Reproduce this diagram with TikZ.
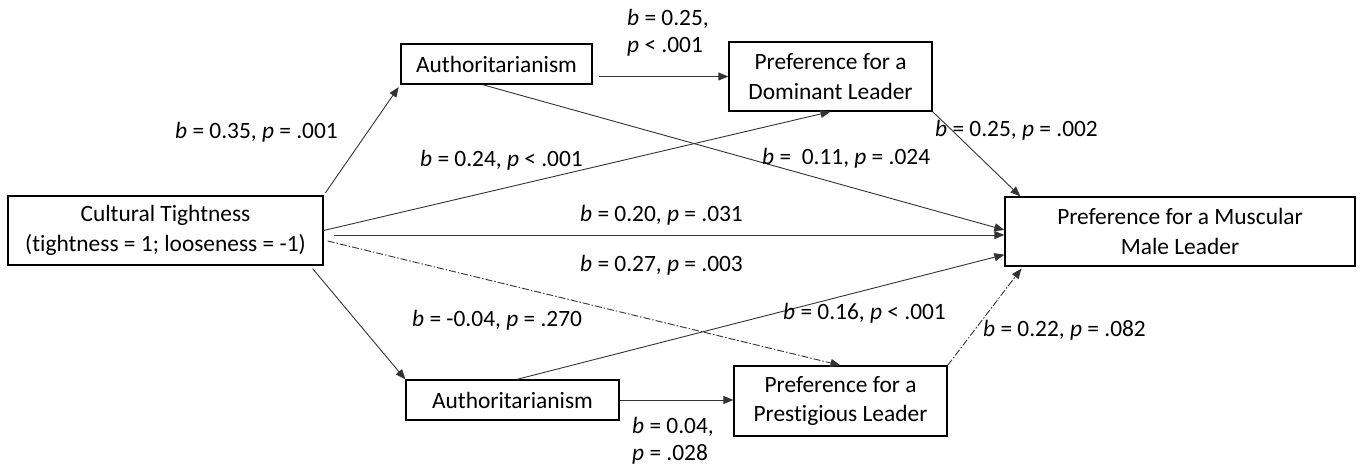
\documentclass[tikz,border=0pt]{standalone}
\usepackage{fontspec}
\setmainfont{Carlito}[Ligatures=NoCommon]
\usetikzlibrary{arrows.meta}
\tikzset{
  box/.style={draw=black,line width=1.3pt,inner sep=0pt,align=center,font=\fontsize{23.4}{29.5}\selectfont},
  conn/.style={draw=black!80,line width=0.9pt,-{Triangle[length=10pt,width=8pt]}},
  dashconn/.style={conn,dash pattern=on 7pt off 2pt on 1.5pt off 2pt},
  lab/.style={anchor=west,inner sep=0pt,align=left,font=\fontsize{23.4}{26.5}\selectfont}
}
\begin{document}
\begin{tikzpicture}[x=1pt,y=-1pt]
\useasboundingbox (0,0) rectangle (1362,470);
\node[box,minimum width=315pt,minimum height=69pt] (tight) at (165.5,230.5) {Cultural Tightness\\(tightness = 1; looseness = -1)};
\node[box,minimum width=191pt,minimum height=40pt] (authA) at (496.5,64) {Authoritarianism};
\node[box,minimum width=203pt,minimum height=69pt] (dom) at (830.5,76.5) {Preference for a\\Dominant Leader};
\node[box,minimum width=350pt,minimum height=69pt] (mus) at (1180,231.5) {Preference for a Muscular\\Male Leader};
\node[box,minimum width=213pt,minimum height=40pt] (authB) at (512.5,400) {Authoritarianism};
\node[box,minimum width=213pt,minimum height=70pt] (pres) at (840.5,401) {Preference for a\\Prestigious Leader};
\draw[conn,shorten <=3pt,shorten >=3pt] (tight.north east) -- (authA.south west);
\draw[conn] (tight.east) -- (dom.south);
\draw[conn] ([shift={(10,4.5)}]tight.east) -- ([shift={(0,3.5)}]mus.west);
\draw[dashconn] ([shift={(4,10.5)}]tight.east) -- (pres.north);
\draw[conn] ([shift={(-11,3)}]tight.south east) -- (authB.north west);
\draw[conn] ([xshift=-14pt]authA.south) -- ([yshift=1.5pt]mus.west);
\draw[conn] ([xshift=6pt]authA.east |- dom.west) -- (dom.west);
\draw[conn] (authB.east) -- (authB.east -| pres.west);
\draw[conn] ([xshift=4.5pt]authB.north) -- ([shift={(0,-12)}]mus.south west);
\draw[conn] (dom.south east) -- ([xshift=16pt]mus.north west);
\draw[dashconn] (pres.north east) -- ([shift={(17,2)}]mus.south west);
\node[lab] (l35) at (175,132) {\textit{b} = 0.35, \textit{p} = .001};
\node[lab] (l25a) at (627,33) {\textit{b} = 0.25,\\\textit{p} < .001};
\node[lab] (l24) at (420,160) {\textit{b} = 0.24, \textit{p} < .001};
\node[lab] (l11) at (762,158) {\textit{b} =~ 0.11, \textit{p} = .024};
\node[lab] (l25b) at (935,130) {\textit{b} = 0.25, \textit{p} = .002};
\node[lab] (l20) at (580,215) {\textit{b} = 0.20, \textit{p} = .031};
\node[lab] (l27) at (580,265) {\textit{b} = 0.27, \textit{p} = .003};
\node[lab] (l04n) at (412,320) {\textit{b} = -0.04, \textit{p} = .270};
\node[lab] (l16) at (783,313) {\textit{b} = 0.16, \textit{p} < .001};
\node[lab] (l22) at (983,330) {\textit{b} = 0.22, \textit{p} = .082};
\node[lab] (l04) at (632,441) {\textit{b} = 0.04,\\\textit{p} = .028};
\end{tikzpicture}
\end{document}
